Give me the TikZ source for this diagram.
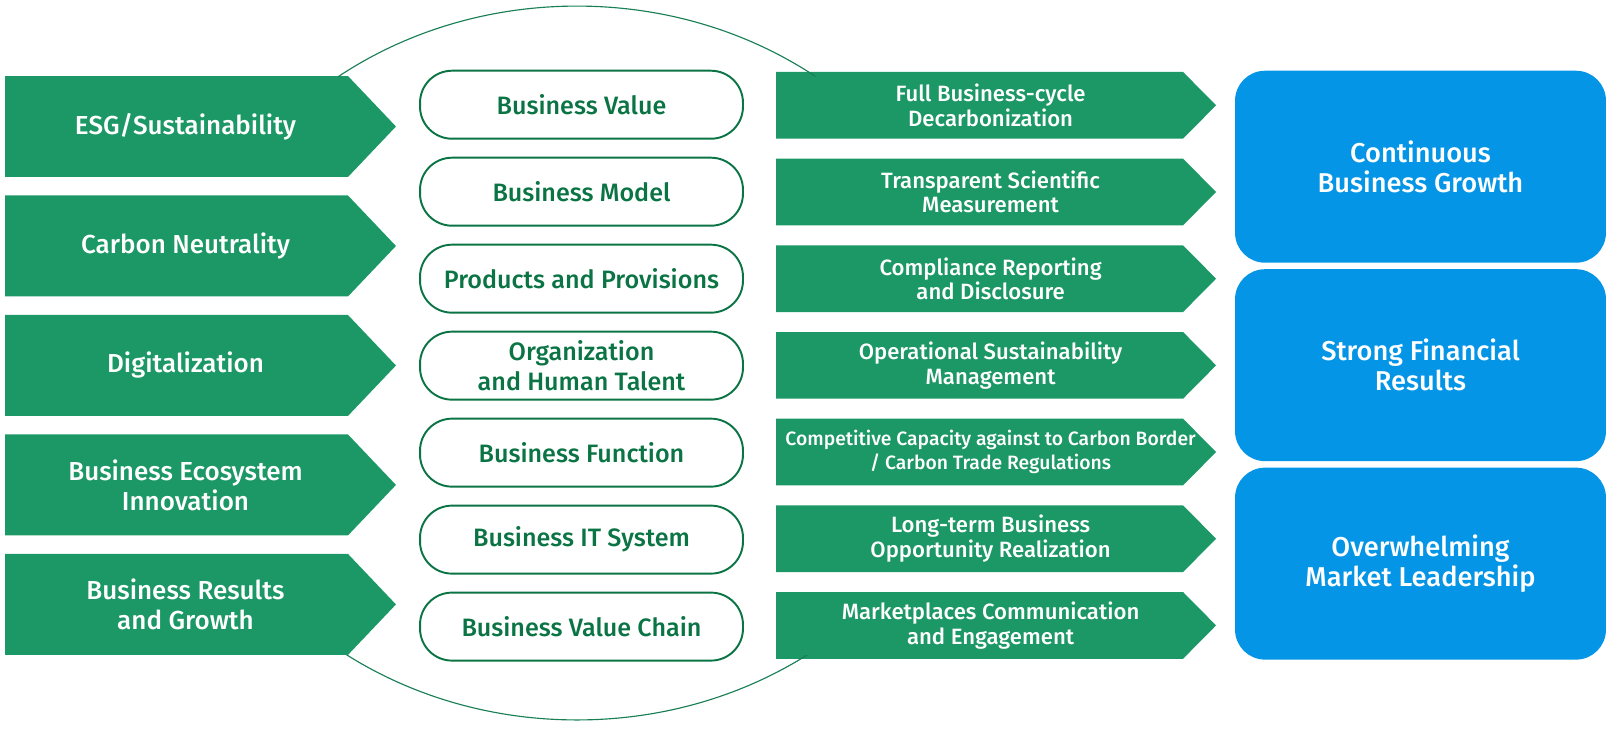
\documentclass[tikz,border=0pt]{standalone}
\usepackage{fontspec}
\setmainfont{Fira Sans Medium}
\usetikzlibrary{positioning,backgrounds}

\definecolor{leaf}{HTML}{1B9865}
\definecolor{pine}{HTML}{0B7444}
\definecolor{rimgreen}{HTML}{1A7F55}
\definecolor{sky}{HTML}{0595E6}

\begin{document}
\begin{tikzpicture}[
    x=0.02cm, y=-0.02cm,
    every node/.style={outer sep=0pt},
    driver/.style={text=white, minimum width=7.22cm, minimum height=2.02cm, inner sep=0pt, align=center, font=\fontsize{14.8}{17}\selectfont},
    pillar/.style={draw=pine, line width=1.1pt, fill=white, text=pine, rounded corners=0.64cm, minimum width=6.46cm, minimum height=1.36cm, inner sep=0pt, align=center, font=\fontsize{14.3}{17}\selectfont},
    action/.style={text=white, minimum width=8.58cm, minimum height=1.334cm, inner sep=0pt, align=center, font=\fontsize{12.6}{14}\selectfont},
    outcome/.style={fill=sky, text=white, rounded corners=0.6cm, minimum width=7.42cm, minimum height=3.84cm, inner sep=0pt, align=center, font=\fontsize{15.5}{17}\selectfont},
    rim/.style={draw=rimgreen, line width=0.65pt},
]
    \useasboundingbox (0,0) rectangle (1613,728);

    % oval behind the pillars, only its top and bottom show
    \begin{scope}
        \clip (0,0) rectangle (1613,76.5) (0,655) rectangle (1613,728);
        \draw[rim] (577,363) ellipse [x radius=8cm, y radius=7.14cm];
    \end{scope}

    % drivers
    \node[driver] (esg) at (185.5,126.5) {ESG/Sustainability};
    \node[driver, below=0.37cm of esg] (carbon) {Carbon Neutrality};
    \node[driver, below=0.37cm of carbon] (digital) {Digitalization};
    \node[driver, below=0.37cm of digital] (ecosys) {Business Ecosystem\\Innovation};
    \node[driver, below=0.37cm of ecosys] (results) {Business Results\\and Growth};

    % pillars
    \node[pillar] (value) at (581.5,104.7) {Business Value};
    \node[pillar, below=0.38cm of value] (model) {Business Model};
    \node[pillar, below=0.38cm of model] (products) {Products and Provisions};
    \node[pillar, below=0.38cm of products] (talent) {Organization\\and Human Talent};
    \node[pillar, below=0.38cm of talent] (function) {Business Function};
    \node[pillar, below=0.38cm of function] (itsys) {Business IT System};
    \node[pillar, below=0.38cm of itsys] (chain) {Business Value Chain};

    % actions
    \node[action] (decarb) at (990.6,105.3) {Full Business-cycle\\Decarbonization};
    \node[action, below=0.4cm of decarb] (measure) {Transparent Scientific\\Measurement};
    \node[action, below=0.4cm of measure] (report) {Compliance Reporting\\and Disclosure};
    \node[action, below=0.4cm of report] (ops) {Operational Sustainability\\Management};
    \node[action, below=0.4cm of ops, font=\fontsize{11}{14}\selectfont] (border) {Competitive Capacity against to Carbon Border\\/ Carbon Trade Regulations};
    \node[action, below=0.4cm of border] (longterm) {Long-term Business\\Opportunity Realization};
    \node[action, below=0.4cm of longterm] (market) {Marketplaces Communication\\and Engagement};

    % outcomes
    \node[outcome] (growth) at (1420.5,166.7) {Continuous\\Business Growth};
    \node[outcome, below=0.13cm of growth] (finance) {Strong Financial\\Results};
    \node[outcome, below=0.13cm of finance] (leader) {Overwhelming\\Market Leadership};

    % arrow bodies behind the texts
    \begin{scope}[on background layer]
        \foreach \n in {esg,carbon,digital,ecosys,results}
            \fill[leaf] (\n.north west) -- ([xshift=-0.36cm]\n.north east) -- ([xshift=0.6cm]\n.east)
                -- ([xshift=-0.36cm]\n.south east) -- (\n.south west) -- cycle;
        \foreach \n in {decarb,measure,report,ops,border,longterm,market}
            \fill[leaf] (\n.north west) -- ([xshift=-0.44cm]\n.north east) -- ([xshift=0.22cm]\n.east)
                -- ([xshift=-0.44cm]\n.south east) -- (\n.south west) -- cycle;
    \end{scope}
\end{tikzpicture}
\end{document}
